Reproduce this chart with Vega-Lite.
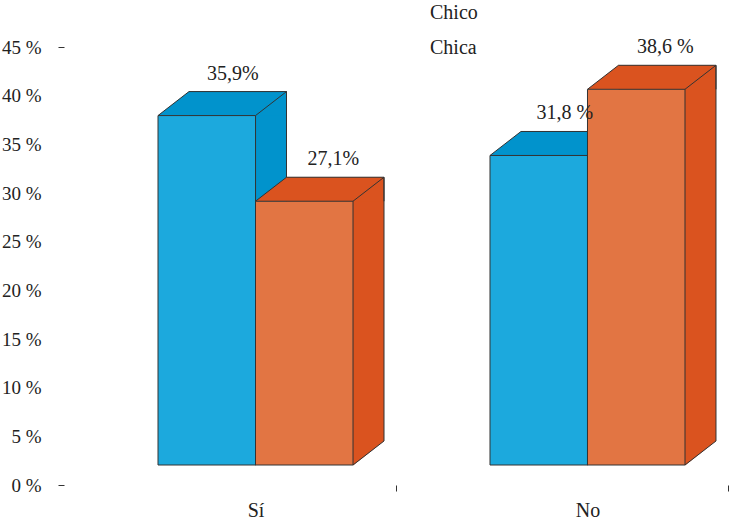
{
  "$schema": "https://vega.github.io/schema/vega-lite/v6.json",
  "autosize": {"type": "none"},
  "width": 663,
  "height": 438,
  "padding": {"left": 64, "top": 47, "right": 3, "bottom": 38},
  "background": "white",
  "config": {
    "view": {"stroke": null},
    "font": "Liberation Serif",
    "axis": {"labelFont": "Liberation Serif", "labelFontSize": 19, "labelColor": "#222", "domain": false, "grid": false, "title": null}
  },
  "data": {
    "values": [
      {"group": "Sí", "gender": "Chico", "value": 35.9, "label": "35,9%"},
      {"group": "Sí", "gender": "Chica", "value": 27.1, "label": "27,1%"},
      {"group": "No", "gender": "Chico", "value": 31.8, "label": "31,8 %"},
      {"group": "No", "gender": "Chica", "value": 38.6, "label": "38,6 %"}
    ]
  },
  "encoding": {
    "x": {
      "field": "group", "type": "nominal", "sort": ["Sí", "No"],
      "scale": {"type": "band", "paddingInner": 0.7063, "paddingOuter": 0.3517, "align": 0.4026},
      "axis": {"labelAngle": 0, "labelFontSize": 20, "tickSize": 6, "tickColor": "#333", "tickOffset": 189.25, "labelOffset": -140.5, "labelPadding": 9}
    },
    "y": {
      "field": "value", "type": "quantitative",
      "scale": {"domain": [0, 45], "nice": false},
      "axis": {
        "values": [0, 5, 10, 15, 20, 25, 30, 35, 40, 45],
        "labelExpr": "datum.value + ' %'",
        "tickSize": 6,
        "tickColor": {"condition": {"test": "datum.value == 0 || datum.value == 45", "value": "#333"}, "value": "transparent"},
        "labelPadding": 17
      }
    }
  },
  "layer": [
    {"transform": [{"filter": "datum.gender == 'Chico'"}],
     "mark": {"type": "bar", "fill": "#0193CC", "strokeWidth": 0, "xOffset": 31, "x2Offset": 31, "yOffset": -44, "y2Offset": -44}},
    {"transform": [{"filter": "datum.gender == 'Chico'"}],
     "mark": {"type": "point", "shape": "M-48.75,0L-17.75,-24L79.75,-24L79.75,0Z", "size": 4, "filled": true, "fill": "#0193CC", "opacity": 1, "strokeWidth": 0, "yOffset": -20}},
    {"transform": [{"filter": "datum.gender == 'Chico'"}],
     "mark": {"type": "point", "shape": "M48.75,-25L48.75,0.5L79.75,-24L79.75,-25Z", "size": 4, "filled": true, "fill": "#0193CC", "opacity": 1, "strokeWidth": 0, "yOffset": -20},
     "encoding": {"y": {"datum": 0, "type": "quantitative"}}},
    {"transform": [{"filter": "datum.gender == 'Chico'"}],
     "mark": {"type": "rule", "stroke": "#333", "strokeWidth": 1, "xOffset": 79.75, "yOffset": -44, "y2Offset": -44},
     "encoding": {"y2": {"datum": 0}}},
    {"transform": [{"filter": "datum.gender == 'Chico'"}],
     "mark": {"type": "point", "shape": "M-48.75,0L-17.75,-24L79.75,-24L79.75,0M48.75,0L79.75,-24", "size": 4, "filled": false, "stroke": "#333", "strokeWidth": 1, "opacity": 1, "yOffset": -20}},
    {"transform": [{"filter": "datum.gender == 'Chico'"}],
     "mark": {"type": "point", "shape": "M48.75,0L79.75,-24", "size": 4, "filled": false, "stroke": "#333", "strokeWidth": 1, "opacity": 1, "yOffset": -20},
     "encoding": {"y": {"datum": 0, "type": "quantitative"}}},
    {"transform": [{"filter": "datum.gender == 'Chico'"}],
     "mark": {"type": "bar", "stroke": "#333", "strokeWidth": 1, "yOffset": -20, "y2Offset": -20},
     "encoding": {"color": {"field": "gender", "type": "nominal",
       "scale": {"domain": ["Chico", "Chica"], "range": ["#1CA9DD", "#E27543"]},
       "legend": {"title": null, "orient": "none", "legendX": 346, "legendY": -44, "symbolOpacity": 0, "symbolSize": 64, "labelFont": "Liberation Serif", "labelFontSize": 20, "labelColor": "#222", "rowPadding": 15, "labelOffset": 0}}}},

    {"transform": [{"filter": "datum.gender == 'Chica'"}],
     "mark": {"type": "bar", "fill": "#DA531F", "strokeWidth": 0, "xOffset": 128.5, "x2Offset": 128.5, "yOffset": -44, "y2Offset": -44}},
    {"transform": [{"filter": "datum.gender == 'Chica'"}],
     "mark": {"type": "point", "shape": "M-48.75,0L-17.75,-24L79.75,-24L79.75,0Z", "size": 4, "filled": true, "fill": "#DA531F", "opacity": 1, "strokeWidth": 0, "xOffset": 97.5, "yOffset": -20}},
    {"transform": [{"filter": "datum.gender == 'Chica'"}],
     "mark": {"type": "point", "shape": "M48.75,-25L48.75,0.5L79.75,-24L79.75,-25Z", "size": 4, "filled": true, "fill": "#DA531F", "opacity": 1, "strokeWidth": 0, "xOffset": 97.5, "yOffset": -20},
     "encoding": {"y": {"datum": 0, "type": "quantitative"}}},
    {"transform": [{"filter": "datum.gender == 'Chica'"}],
     "mark": {"type": "rule", "stroke": "#333", "strokeWidth": 1, "xOffset": 177.25, "yOffset": -44, "y2Offset": -44},
     "encoding": {"y2": {"datum": 0}}},
    {"transform": [{"filter": "datum.gender == 'Chica'"}],
     "mark": {"type": "point", "shape": "M-48.75,0L-17.75,-24L79.75,-24L79.75,0M48.75,0L79.75,-24", "size": 4, "filled": false, "stroke": "#333", "strokeWidth": 1, "opacity": 1, "xOffset": 97.5, "yOffset": -20}},
    {"transform": [{"filter": "datum.gender == 'Chica'"}],
     "mark": {"type": "point", "shape": "M48.75,0L79.75,-24", "size": 4, "filled": false, "stroke": "#333", "strokeWidth": 1, "opacity": 1, "xOffset": 97.5, "yOffset": -20},
     "encoding": {"y": {"datum": 0, "type": "quantitative"}}},
    {"transform": [{"filter": "datum.gender == 'Chica'"}],
     "mark": {"type": "bar", "stroke": "#333", "strokeWidth": 1, "xOffset": 97.5, "x2Offset": 97.5, "yOffset": -20, "y2Offset": -20},
     "encoding": {"color": {"field": "gender", "type": "nominal"}}},

    {"transform": [{"filter": "datum.gender == 'Chico'"}],
     "mark": {"type": "text", "font": "Liberation Serif", "fontSize": 20, "baseline": "alphabetic", "color": "#222", "xOffset": 26, "yOffset": -56},
     "encoding": {"text": {"field": "label"}}},
    {"transform": [{"filter": "datum.gender == 'Chica'"}],
     "mark": {"type": "text", "font": "Liberation Serif", "fontSize": 20, "baseline": "alphabetic", "color": "#222", "xOffset": 126.5, "yOffset": -56},
     "encoding": {"text": {"field": "label"}}}
  ]
}
